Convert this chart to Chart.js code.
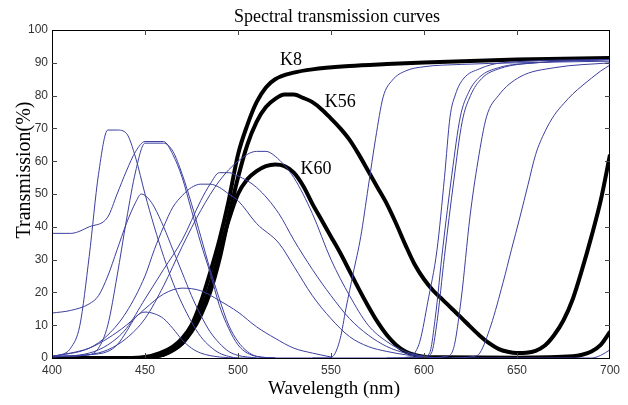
<!DOCTYPE html>
<html>
<head>
<meta charset="utf-8">
<script src="https://cdn.jsdelivr.net/npm/chart.js@4/dist/chart.umd.min.js"></script>
<style>
  html, body { margin: 0; padding: 0; background: #fff; }
  canvas { display: block; }
</style>
</head>
<body>
<canvas id="chart" width="628" height="405"></canvas>
<script>
// --- data (wavelength nm / transmission %) ---
const xTicks = [400, 450, 500, 550, 600, 650, 700];
const yTicks = [0, 10, 20, 30, 40, 50, 60, 70, 80, 90, 100];

// thick black glasses
const k8Nm = [400, 440, 450, 458, 465, 470, 475, 480, 485, 490, 495, 500, 505, 510, 515, 520, 530, 540, 560, 580, 600, 650, 700];
const k8T  = [0, 0, 0.3, 1.5, 3.5, 6, 10, 17, 26, 36, 48, 62, 71, 78, 82.5, 85, 87, 88, 89, 89.6, 90.1, 91, 91.5];
const k56Nm = [400, 445, 455, 460, 465, 470, 475, 480, 485, 490, 495, 500, 505, 510, 515, 520, 525, 530, 535, 540, 545, 550, 555, 560, 565, 570, 575, 580, 585, 590, 595, 600, 605, 610, 615, 620, 625, 630, 635, 640, 645, 650, 655, 660, 665, 670, 675, 680, 685, 690, 695, 700];
const k56T  = [0, 0, 0.5, 1, 2.5, 4.5, 8, 13, 20, 30, 43, 55, 65, 72, 76.5, 79, 80.3, 80.3, 79.3, 78, 75.8, 73, 70, 66.5, 62, 57, 52, 47, 41, 34.5, 28.5, 24, 20.5, 17.8, 15, 12.3, 9.5, 6.8, 4.5, 2.8, 1.9, 1.5, 1.6, 2.2, 3.8, 7, 11.5, 18, 27, 37, 48, 62];
const k60Nm = [400, 445, 455, 460, 470, 475, 480, 485, 490, 495, 500, 505, 510, 515, 520, 525, 530, 535, 540, 545, 550, 555, 560, 565, 570, 575, 580, 585, 590, 595, 600, 610, 650, 680, 685, 690, 695, 700];
const k60T  = [0, 0, 0.5, 1, 4.5, 8.5, 14, 22, 32, 42, 50, 54.5, 57, 58.5, 59, 58.5, 56.5, 52.5, 47, 42, 37, 32, 26.5, 21, 15.8, 11, 7, 4, 2, 0.9, 0.4, 0.2, 0.1, 0.5, 1, 2, 4, 8];

// thin blue filters
const aNm = [400, 410, 420, 430, 435, 440, 445, 450, 460, 465, 470, 475, 480, 485, 490, 495, 500, 505, 510, 520];
const aT  = [38, 38, 40, 43, 50, 57, 63, 66, 66, 62, 55, 45, 35, 26, 16, 9, 4, 1.5, 0.5, 0];
const eNm = [400, 420, 425, 430, 435, 440, 445, 450, 460, 465, 470, 475, 480, 485, 490, 495, 500, 505, 510, 520];
const eT  = [0.5, 1, 3, 10, 25, 42, 57, 65.5, 65.5, 63, 56, 47, 37, 27, 18, 10, 5, 2, 0.5, 0];
const bNm = [400, 405, 410, 415, 420, 425, 430, 435, 440, 445, 450, 455, 460, 465, 470, 475, 480, 485, 490, 495, 500, 690, 695, 700];
const bT  = [0.5, 1, 3, 10, 31, 56, 69.5, 69.5, 68.5, 61, 50, 40, 31, 23, 16.5, 11, 6.5, 3.5, 1.5, 0.5, 0, 0, 0.8, 2.5];
const cNm = [400, 410, 420, 425, 430, 435, 440, 445, 448, 452, 455, 460, 465, 470, 475, 480, 485, 490, 495, 500, 510];
const cT  = [13.7, 14.5, 16.5, 19, 25, 33, 41, 47.5, 50, 48.5, 46, 40, 33, 26, 19, 13, 8, 4.5, 2, 0.8, 0];
const p14Nm = [400, 420, 430, 435, 440, 445, 450, 455, 460, 465, 470, 475, 480, 490, 500];
const p14T  = [0.5, 1, 2, 4, 8, 12.5, 14, 13.5, 12, 9, 5.5, 3, 1.5, 0.3, 0];
const p21Nm = [400, 410, 420, 430, 440, 450, 460, 470, 480, 490, 500, 510, 520, 530, 540, 550];
const p21T  = [0.5, 1.5, 3, 6, 10, 15, 19.5, 21.3, 20.5, 17.5, 14, 9.5, 6, 3, 1.5, 0.3];
const p53Nm = [400, 420, 430, 440, 450, 455, 460, 465, 470, 475, 480, 485, 490, 495, 500, 510, 522, 530, 540, 550, 560, 570, 580, 590, 600];
const p53T  = [0.5, 3, 7, 14, 25, 33, 40, 46, 49.5, 52, 53, 53, 52, 50, 48, 41, 35, 28, 19, 12, 6.5, 3.5, 2, 1, 0.3];
const p56Nm = [400, 420, 430, 440, 450, 460, 470, 480, 485, 490, 495, 500, 510, 522, 530, 540, 550, 560, 570, 580, 590, 600];
const p56T  = [0.3, 1.5, 4, 9, 18, 27, 36, 48, 53, 56.5, 56.5, 55.5, 52, 44, 36, 27, 19, 12, 7, 3.5, 1.5, 0.5];
const p63Nm = [400, 420, 430, 440, 450, 460, 470, 480, 490, 500, 510, 515, 520, 530, 540, 550, 560, 570, 580, 590, 600, 610];
const p63T  = [0.3, 1, 2.5, 6, 12, 22, 34, 45, 54, 60, 63, 63, 61.5, 55, 44, 30, 19, 10, 5, 2, 0.5, 0];
const l1Nm = [540, 548, 551, 555, 558, 562, 566, 570, 574, 578, 583, 590, 600, 620, 650, 700];
const l1T  = [0, 0, 0.5, 6, 15, 26, 37, 52, 67, 79.5, 84.7, 87.5, 88.8, 89.5, 90, 90.5];
const l2Nm = [580, 592, 595, 598, 602, 607, 611, 614, 617, 621, 630, 642, 700];
const l2T  = [0, 0.3, 1.5, 5.5, 17, 33, 55, 73.5, 80.5, 85, 88.2, 90, 91];
const l3Nm = [590, 600, 603, 606, 610, 615, 619.5, 624, 630, 640, 660, 700];
const l3T  = [0, 0.5, 1.5, 12, 33, 56, 73.5, 81, 85.7, 88.5, 90, 91];
const l4Nm = [590, 601, 604, 607, 611, 616, 620.5, 625, 631, 641, 660, 700];
const l4T  = [0, 0.5, 1.5, 11, 31, 54, 72, 80, 85.2, 88.3, 90, 91];
const l5Nm = [600, 612, 615.6, 620, 624.7, 629, 633.6, 640, 651.6, 670, 700];
const l5T  = [0, 0.5, 2.4, 18, 43, 60, 73.5, 80, 85.7, 88.5, 90];
const l6Nm = [615, 627, 630, 636, 642.5, 647, 651.6, 656, 660, 665, 670, 675, 680, 685, 690, 695, 700];
const l6T  = [0, 0.5, 1.5, 10, 23, 33, 43, 53, 62, 69, 74, 77.5, 80.5, 83, 85.3, 87.5, 89.3];

const curveLabels = ['K8', 'K56', 'K60'];
const labelNm = [528.5, 555, 542];
const labelT = [90.9, 78, 57.6];

const BLUE = '#3b3f9e';
const SERIF = '"Liberation Serif", "Times New Roman", serif';
const SANS = '"Liberation Sans Narrow", "Liberation Sans", Arial, sans-serif';

function pts(nm, t) {
  return nm.map((x, i) => ({ x: x, y: t[i] }));
}
function thin(nm, t) {
  return { data: pts(nm, t), borderColor: BLUE, borderWidth: 1 };
}
function thick(nm, t) {
  return { data: pts(nm, t), borderColor: '#000', borderWidth: 4 };
}

// frame, inward ticks, titles and curve names
const decor = {
  id: 'decor',
  afterDraw(chart) {
    const ctx = chart.ctx;
    const a = chart.chartArea;
    const xs = chart.scales.x;
    const ys = chart.scales.y;
    ctx.save();
    ctx.strokeStyle = '#000';
    ctx.lineWidth = 1;
    ctx.strokeRect(a.left + 0.5, a.top + 0.5, a.right - a.left - 1, a.bottom - a.top);
    ctx.strokeStyle = '#444';
    ctx.beginPath();
    xTicks.slice(1, -1).forEach(v => {
      const px = Math.round(xs.getPixelForValue(v)) + 0.5;
      ctx.moveTo(px, a.bottom); ctx.lineTo(px, a.bottom - 5);
      ctx.moveTo(px, a.top); ctx.lineTo(px, a.top + 5);
    });
    yTicks.slice(1, -1).forEach(v => {
      const py = Math.round(ys.getPixelForValue(v)) + 0.5;
      ctx.moveTo(a.left, py); ctx.lineTo(a.left + 5, py);
      ctx.moveTo(a.right, py); ctx.lineTo(a.right - 5, py);
    });
    ctx.stroke();

    ctx.fillStyle = '#000';
    ctx.textAlign = 'center';
    ctx.textBaseline = 'middle';
    ctx.font = '18px ' + SERIF;
    ctx.fillText('Spectral transmission curves', 337, 17);
    ctx.font = '19px ' + SERIF;
    ctx.fillText('Wavelength (nm)', 334, 389);
    ctx.save();
    ctx.translate(25, 170);
    ctx.rotate(-Math.PI / 2);
    ctx.font = '20px ' + SERIF;
    ctx.fillText('Transmission(%)', 0, 0);
    ctx.restore();

    ctx.font = '18px ' + SERIF;
    curveLabels.forEach((s, i) => {
      ctx.fillText(s, xs.getPixelForValue(labelNm[i]), ys.getPixelForValue(labelT[i]));
    });
    ctx.restore();
  }
};

new Chart(document.getElementById('chart'), {
  type: 'line',
  data: {
    datasets: [
      thin(aNm, aT), thin(eNm, eT), thin(bNm, bT), thin(cNm, cT),
      thin(p14Nm, p14T), thin(p21Nm, p21T), thin(p53Nm, p53T),
      thin(p56Nm, p56T), thin(p63Nm, p63T),
      thin(l1Nm, l1T), thin(l2Nm, l2T), thin(l3Nm, l3T), thin(l4Nm, l4T),
      thin(l5Nm, l5T), thin(l6Nm, l6T),
      thick(k8Nm, k8T), thick(k56Nm, k56T), thick(k60Nm, k60T)
    ]
  },
  options: {
    responsive: false,
    animation: false,
    layout: { padding: { left: 0, right: 18, top: 30, bottom: 0 } },
    elements: {
      point: { radius: 0 },
      line: { cubicInterpolationMode: 'monotone', fill: false }
    },
    plugins: { legend: { display: false }, tooltip: { enabled: false }, title: { display: false } },
    scales: {
      x: {
        type: 'linear', min: 400, max: 700,
        afterFit: s => { s.height = 47; },
        afterBuildTicks: s => { s.ticks = xTicks.map(v => ({ value: v })); },
        grid: { display: false, drawTicks: false },
        border: { display: false },
        ticks: { padding: 5, color: '#333', font: { family: SANS, size: 12 }, maxRotation: 0, autoSkip: false }
      },
      y: {
        min: 0, max: 100,
        afterFit: s => { s.width = 52; },
        afterBuildTicks: s => { s.ticks = yTicks.map(v => ({ value: v })); },
        grid: { display: false, drawTicks: false },
        border: { display: false },
        ticks: { padding: 4, color: '#333', font: { family: SANS, size: 12 } }
      }
    }
  },
  plugins: [decor]
});
</script>
</body>
</html>
